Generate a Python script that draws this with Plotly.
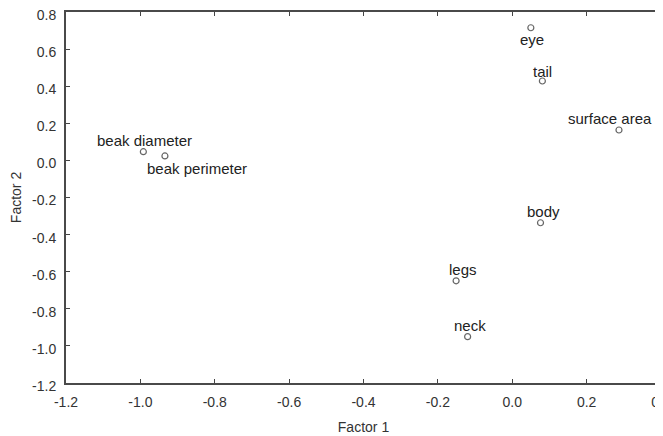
import plotly.graph_objects as go

labels = ["beak diameter", "beak perimeter", "eye", "tail", "surface area", "body", "legs", "neck"]
factor1 = [-0.992, -0.934, 0.050, 0.081, 0.287, 0.076, -0.151, -0.120]
factor2 = [0.047, 0.024, 0.715, 0.428, 0.164, -0.336, -0.649, -0.950]

x_tickvals = [-1.2, -1.0, -0.8, -0.6, -0.4, -0.2, 0.0, 0.2, 0.4]
x_ticktext = ["-1.2", "-1.0", "-0.8", "-0.6", "-0.4", "-0.2", "0.0", "0.2", "0.4"]
y_tickvals = [-1.2, -1.0, -0.8, -0.6, -0.4, -0.2, 0.0, 0.2, 0.4, 0.6, 0.8]
y_ticktext = ["-1.2", "-1.0", "-0.8", "-0.6", "-0.4", "-0.2", "0.0", "0.2", "0.4", "0.6", "0.8"]

# label offsets in pixels (dx right, dy up) relative to each point
label_dx = [1, 32, 1, 0, -9, 3, 7, 2]
label_dy = [11, -13, -12, 10, 11, 11, 11, 11]

FONT = "Liberation Sans, Arial, sans-serif"

fig = go.Figure(go.Scatter(
    x=factor1, y=factor2, mode="markers",
    marker=dict(symbol="circle-open", size=6, color="#666666", line=dict(width=1.2)),
    cliponaxis=False, showlegend=False, hoverinfo="skip",
))

for lab, xv, yv, dx, dy in zip(labels, factor1, factor2, label_dx, label_dy):
    fig.add_annotation(x=xv, y=yv, text=lab, showarrow=False, xshift=dx, yshift=dy,
                       xanchor="center", yanchor="middle",
                       font=dict(family=FONT, size=15, color="#222222"))

axis_common = dict(
    showgrid=False, zeroline=False, showline=True, linecolor="#4a4a4a", linewidth=2,
    mirror="ticks", ticks="inside", ticklen=4, tickcolor="#444444", tickwidth=1,
    tickfont=dict(family=FONT, size=14, color="#333333"),
    automargin=False, tickmode="array", ticklabeloverflow="allow",
)
fig.update_xaxes(range=[-1.2, 0.4], tickvals=x_tickvals, ticktext=x_ticktext,
                 ticklabelstandoff=5,
                 title=dict(text="Factor 1", font=dict(family=FONT, size=14, color="#333333"), standoff=13),
                 **axis_common)
fig.update_yaxes(range=[-1.2, 0.8], tickvals=y_tickvals, ticktext=y_ticktext,
                 ticklabelstandoff=5, ticklabelshift=3,
                 title=dict(text="Factor 2", font=dict(family=FONT, size=14, color="#333333"), standoff=12),
                 **axis_common)
fig.update_layout(
    width=655, height=428, margin=dict(l=58, r=2, t=4, b=53),
    plot_bgcolor="white", paper_bgcolor="white",
)
fig.write_html("out.html")
